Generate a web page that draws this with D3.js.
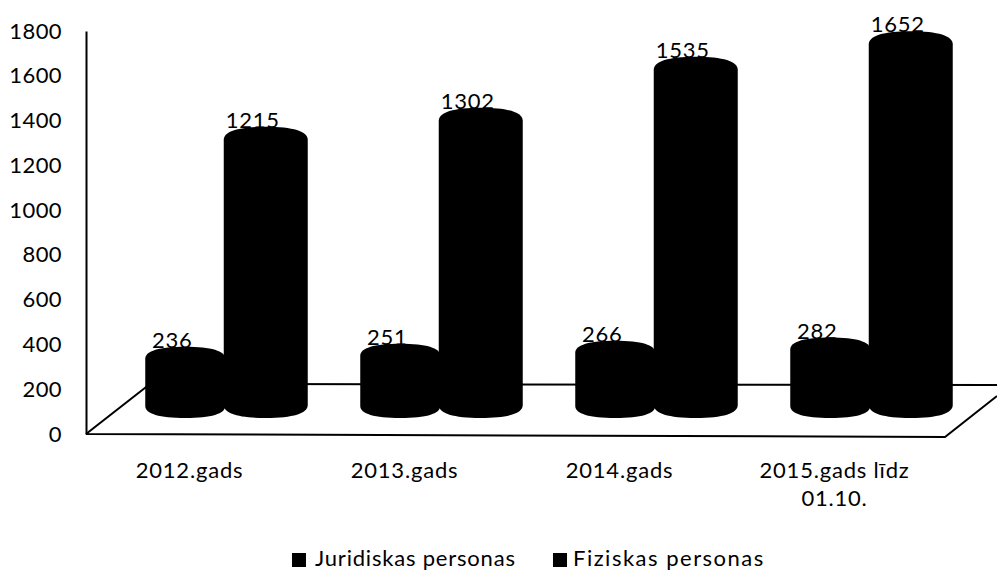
<!DOCTYPE html>
<html>
<head>
<meta charset="utf-8">
<script src="https://cdn.jsdelivr.net/npm/d3@7"></script>
<style>
  body { margin: 0; background: #fff; }
  svg { display: block; }
  text { font-family: Lato, "Open Sans", sans-serif; fill: #000; letter-spacing: 0.8px; }
</style>
</head>
<body>
<svg id="chart" width="997" height="570"></svg>
<script>
// values
var categories = ["2012.gads", "2013.gads", "2014.gads", "2015.gads līdz 01.10."];
var seriesNames = ["Juridiskas personas", "Fiziskas personas"];
var juridiskas = [236, 251, 266, 282];
var fiziskas = [1215, 1302, 1535, 1652];
var yTicks = [0, 200, 400, 600, 800, 1000, 1200, 1400, 1600, 1800];

var width = 997, height = 570;
var fontSize = 22;
var svg = d3.select("#chart");

// printed axis, on the front edge of the floor
var y = d3.scaleLinear().domain([0, 1800]).range([434, 31]);
var xFront = d3.scaleBand().domain(categories).range([84, 944]);

// the bars stand further back, so they get their own scales
var xBack = d3.scaleBand().domain(categories).range([118, 978]);
var xSeries = d3.scaleBand().domain(seriesNames).range([-80.5, 80.5]);
var barY = {};
barY[seriesNames[0]] = d3.scaleLinear().domain([0, 1800]).range([406, 46]);
barY[seriesNames[1]] = d3.scaleLinear().domain([0, 1800]).range([405, 12]);
var ry = {};
ry[seriesNames[0]] = 12;
ry[seriesNames[1]] = 13;

var rows = [];
seriesNames.forEach(function(name, s) {
  var values = s == 0 ? juridiskas : fiziskas;
  categories.forEach(function(c, i) {
    rows.push({series: name, category: c, value: values[i]});
  });
});

// floor of the 3d box
svg.append("path")
  .attr("d", "M86,434L150,384L997,385M86,434L945,437L997,396")
  .attr("fill", "none")
  .attr("stroke", "#000")
  .attr("stroke-width", 2);

// y axis
var yAxis = d3.axisLeft(y).tickValues(yTicks).tickSize(0).tickPadding(24).tickFormat(d3.format("d"));
var yG = svg.append("g").attr("transform", "translate(86,0)").call(yAxis);
yG.select(".domain").attr("stroke", "#000").attr("stroke-width", 2);
yG.selectAll("text").style("font-size", fontSize + "px").style("font-family", "Lato").style("letter-spacing", "0.4px");

// x axis labels, the long one goes on two lines
var xAxis = d3.axisBottom(xFront).tickSize(0).tickFormat("");
var xG = svg.append("g").attr("transform", "translate(0,434)").call(xAxis);
xG.select(".domain").remove();
var lines = {};
lines[categories[3]] = ["2015.gads līdz", "01.10."];
svg.selectAll(".cat")
  .data(categories)
  .enter().append("text")
  .attr("class", "cat")
  .attr("text-anchor", "middle")
  .style("font-size", fontSize + "px")
  .each(function(d) {
    var parts = lines[d] || [d];
    d3.select(this).selectAll("tspan")
      .data(parts)
      .enter().append("tspan")
      .attr("x", xFront(d) + xFront.bandwidth() / 2 - 2)
      .attr("y", function(p, i) { return 478 + i * 28; })
      .text(function(p) { return p; });
  });

// cylinders, the ends are a bit fuller than a true ellipse like in the original
function cylinder(d) {
  var cx = xBack(d.category) + xBack.bandwidth() / 2 + xSeries(d.series) + xSeries.bandwidth() / 2;
  var rx = d.series == seriesNames[0] ? 40 : 42;
  var r = ry[d.series];
  var k = 0.65;
  var top = barY[d.series](d.value);
  var bottom = barY[d.series](0);
  return "M" + (cx - rx) + "," + top
    + "C" + (cx - rx) + "," + (top - k * r) + " " + (cx - k * rx) + "," + (top - r) + " " + cx + "," + (top - r)
    + "S" + (cx + rx) + "," + (top - k * r) + " " + (cx + rx) + "," + top
    + "V" + bottom
    + "C" + (cx + rx) + "," + (bottom + k * r) + " " + (cx + k * rx) + "," + (bottom + r) + " " + cx + "," + (bottom + r)
    + "S" + (cx - rx) + "," + (bottom + k * r) + " " + (cx - rx) + "," + bottom
    + "Z";
}

svg.selectAll(".bar")
  .data(rows)
  .enter().append("path")
  .attr("class", "bar")
  .attr("d", cylinder)
  .attr("fill", "#000");

// value labels sit just on the top of each cylinder
svg.selectAll(".val")
  .data(rows)
  .enter().append("text")
  .attr("class", "val")
  .attr("text-anchor", "middle")
  .attr("x", function(d) { return xBack(d.category) + xBack.bandwidth() / 2 + xSeries(d.series) + xSeries.bandwidth() / 2 - 13; })
  .attr("y", function(d) { return barY[d.series](d.value) - ry[d.series] + 1; })
  .style("font-size", fontSize + "px")
  .text(function(d) { return d.value; });

// legend
var legendX = d3.scaleOrdinal().domain(seriesNames).range([292, 553]);
var legend = svg.selectAll(".legend")
  .data(seriesNames)
  .enter().append("g")
  .attr("class", "legend")
  .attr("transform", function(d) { return "translate(" + legendX(d) + ",0)"; });
legend.append("rect")
  .attr("y", 553)
  .attr("width", 14)
  .attr("height", 14)
  .attr("fill", "#000");
legend.append("text")
  .attr("x", function(d, i) { return i == 0 ? 23 : 20; })
  .attr("y", 566)
  .style("font-size", fontSize + "px")
  .style("letter-spacing", function(d, i) { return i == 0 ? "0.8px" : "1.5px"; })
  .text(function(d) { return d; });
</script>
</body>
</html>
